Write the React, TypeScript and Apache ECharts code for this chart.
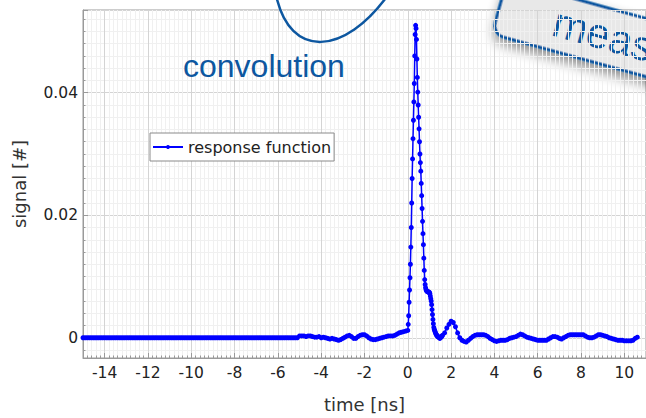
import React, { useEffect, useRef } from "react";
import * as echarts from "echarts";

// ---- data ----
// baseline before the pulse: -15.0 .. -5.1 ns, every 0.1 ns
const flatStart = -15;
const flatStep = 0.1;
const flatSignal = [
  0, 0, 0, 0, 0, 0, 0, 0, 0, 0,
  0, 0, 0, 0, 0, 0, 0, 0, 0, 0,
  0, 0, 0, 0, 0, 0, 0, 0, 0, 0,
  0, 0, 0, 0, 0, 0, 0, 0, 0, 0,
  0, 0, 0, 0, 0, 0, 0, 0, 0, 0,
  0, 0, 0, 0, 0, 0, 0, 0, 0, 0,
  0, 0, 0, 0, 0, 0, 0, 0, 0, 0,
  0, 0, 0, 0, 0, 0, 0, 0, 0, 0,
  0, 0, 0, 0, 0, 0, 0, 0, 0, 0,
  0, 0, 0, 0, 0, 0, 0, 0, 0, 0,
];

// -5.0 .. -0.1 ns, every 0.1 ns
const preStart = -5;
const preStep = 0.1;
const preSignal = [
  0.0003, 0.0003, 0.0003, 0.0002, 0.0003, 0.0003, 0.0002, 0.0001, 0.0001, 0.0002,
  0.0, 0.0001, 0.0, -0.0001, -0.0002, -0.0001, -0.0002, -0.0003, -0.0004, -0.0003,
  -0.0001, 0.0001, 0.0003, 0.0004, 0.0002, -0.0001, -0.0001, 0.0002, 0.0004, 0.0005,
  0.0005, 0.0003, 0.0, -0.0002, -0.0003, -0.0003, -0.0002, -0.0001, 0.0, 0.0001,
  0.0002, 0.0003, 0.0003, 0.0003, 0.0004, 0.0006, 0.0008, 0.0009, 0.001, 0.0011,
];

// 0.00 .. 1.60 ns, every 0.02 ns
const peakStart = 0;
const peakStep = 0.02;
const peakSignal = [
  0.0012, 0.0022, 0.0036, 0.0058, 0.0078, 0.0098, 0.012, 0.0148, 0.018, 0.022,
  0.026, 0.0292, 0.0325, 0.0355, 0.0385, 0.0415, 0.046, 0.0495, 0.051, 0.0505,
  0.0487, 0.0455, 0.0425, 0.0401, 0.038, 0.036, 0.0341, 0.032, 0.03, 0.0286,
  0.0272, 0.0252, 0.0232, 0.0211, 0.019, 0.017, 0.0152, 0.013, 0.011, 0.0095,
  0.0087, 0.0082, 0.0079, 0.0077, 0.0076, 0.0076, 0.0075, 0.0075, 0.0075, 0.0074,
  0.0074, 0.0072, 0.0068, 0.0064, 0.006, 0.0054, 0.0046, 0.0038, 0.003, 0.0023,
  0.0017, 0.0014, 0.0012, 0.001, 0.0008, 0.0006, 0.0005, 0.0004, 0.0003, 0.0002,
  0.0002, 0.0001, 0.0001, 0.0, -0.0001, 0.0, 0.0001, 0.0001, 0.0002, 0.0003,
  0.0004,
];

// 1.7 .. 10.6 ns, every 0.1 ns
const tailStart = 1.7;
const tailStep = 0.1;
const tailSignal = [
  0.0008, 0.0016, 0.0022, 0.0027, 0.0025, 0.0018, 0.0008, 0.0, -0.0004, -0.0006,
  -0.0007, -0.0004, -0.0001, 0.0002, 0.0004, 0.0005, 0.0005, 0.0005, 0.0005, 0.0004,
  0.0002, -0.0001, -0.0003, -0.0005, -0.0006, -0.0005, -0.0004, -0.0004, -0.0004, -0.0003,
  -0.0001, 0.0, 0.0001, 0.0002, 0.0004, 0.0006, 0.0005, 0.0003, 0.0001, 0.0,
  -0.0001, -0.0002, -0.0003, -0.0004, -0.0004, -0.0004, -0.0004, -0.0004, -0.0002, 0.0,
  0.0002, 0.0002, 0.0001, -0.0001, -0.0002, 0.0, 0.0002, 0.0004, 0.0005, 0.0005,
  0.0005, 0.0005, 0.0005, 0.0005, 0.0005, 0.0003, 0.0001, 0.0, 0.0, 0.0001,
  0.0003, 0.0005, 0.0005, 0.0004, 0.0003, 0.0002, 0.0, -0.0001, -0.0002, -0.0003,
  -0.0004, -0.0004, -0.0004, -0.0005, -0.0005, -0.0005, -0.0005, -0.0004, -0.0001, 0.0001,
];

const seriesName = "response function";
const xAxisTitle = "time [ns]";
const yAxisTitle = "signal [#]";
const xRange = [-15, 11];
const yRange = [-0.0033, 0.0535];
const xMajorStep = 2;
const yMajorStep = 0.02;

function buildPoints(): [number, number][] {
  const segs = [
    { start: flatStart, step: flatStep, values: flatSignal },
    { start: preStart, step: preStep, values: preSignal },
    { start: peakStart, step: peakStep, values: peakSignal },
    { start: tailStart, step: tailStep, values: tailSignal },
  ];
  const pts: [number, number][] = [];
  segs.forEach((s) => {
    s.values.forEach((v, i) => {
      pts.push([Math.round((s.start + i * s.step) * 1000) / 1000, v]);
    });
  });
  return pts;
}

const BLUE_DECO = "#0d57a0";
const AXIS_COLOR = "#9a9a9a";
const FONT = "DejaVu Sans";

export default function App() {
  const ref = useRef<HTMLDivElement>(null);
  useEffect(() => {
    if (!ref.current) return;
    const chart = echarts.init(ref.current, undefined, { renderer: "svg" });
    const axisCommon = {
      type: "value" as const,
      axisLine: { show: true, onZero: false, lineStyle: { color: AXIS_COLOR } },
      axisTick: { show: true, inside: true, length: 5, lineStyle: { color: AXIS_COLOR } },
      minorTick: { show: true, splitNumber: 10, length: 2.5, lineStyle: { color: AXIS_COLOR } },
      splitLine: { show: true, lineStyle: { color: "#d4d4d4", width: 1 } },
      minorSplitLine: { show: true, lineStyle: { color: "#f0f0f0", width: 1 } },
      nameLocation: "middle" as const,
      nameTextStyle: { fontSize: 18, color: "#333", fontFamily: FONT },
    };
    chart.setOption({
      animation: false,
      backgroundColor: "#fff",
      grid: {
        left: 83,
        top: 10,
        right: -1,
        bottom: 56.5,
        show: true,
        borderColor: AXIS_COLOR,
        borderWidth: 1,
        backgroundColor: "#fff",
      },
      legend: {
        show: true,
        data: [seriesName],
        left: 150,
        top: 133,
        padding: [6, 3, 6, 2],
        backgroundColor: "#fff",
        borderColor: "#8a8a8a",
        borderWidth: 1,
        itemWidth: 30,
        itemHeight: 5,
        textStyle: { fontSize: 16, color: "#222", fontFamily: FONT },
      },
      xAxis: {
        ...axisCommon,
        min: xRange[0],
        max: xRange[1],
        splitNumber: 13,
        minInterval: xMajorStep,
        maxInterval: xMajorStep,
        name: xAxisTitle,
        nameGap: 37,
        axisLabel: {
          showMinLabel: false,
          showMaxLabel: false,
          margin: 7,
          fontSize: 15.5,
          color: "#222",
          fontFamily: FONT,
        },
      },
      yAxis: {
        ...axisCommon,
        min: yRange[0],
        max: yRange[1],
        splitNumber: 3,
        minInterval: yMajorStep,
        maxInterval: yMajorStep,
        name: yAxisTitle,
        nameGap: 55,
        axisLabel: {
          showMinLabel: false,
          showMaxLabel: false,
          margin: 5,
          fontSize: 15.5,
          color: "#222",
          fontFamily: FONT,
        },
      },
      series: [
        {
          name: seriesName,
          type: "line",
          data: buildPoints(),
          symbol: "circle",
          symbolSize: 5,
          showSymbol: true,
          clip: true,
          lineStyle: { color: "#0000ff", width: 1.5 },
          itemStyle: { color: "#0000ff" },
        },
      ],
      graphic: [
        {
          type: "bezierCurve",
          z: 100,
          shape: { x1: 276, y1: -5, cpx1: 290, cpy1: 60, cpx2: 345, cpy2: 55, x2: 388, y2: -5 },
          style: { stroke: BLUE_DECO, lineWidth: 2.5, fill: "none" },
        },
        {
          type: "text",
          z: 100,
          x: 183,
          y: 66,
          style: {
            text: "convolution",
            fill: BLUE_DECO,
            font: '32px "Liberation Sans", Arial, sans-serif',
            verticalAlign: "middle",
          },
        },
        {
          type: "group",
          z: 100,
          x: 507,
          y: -20,
          rotation: (-15.5 * Math.PI) / 180,
          children: [
            {
              type: "rect",
              shape: { x: 0, y: 0, width: 330, height: 56, r: 12 },
              style: {
                fill: "#e8e8e8",
                stroke: BLUE_DECO,
                lineWidth: 3,
                shadowBlur: 12,
                shadowColor: "rgba(0,0,0,0.45)",
                shadowOffsetX: 2,
                shadowOffsetY: 6,
              },
            },
            {
              type: "text",
              x: 56,
              y: 27,
              style: {
                text: "measurement",
                fill: BLUE_DECO,
                font: '42px "Liberation Sans", Arial, sans-serif',
                verticalAlign: "middle",
              },
            },
          ],
        },
      ],
    });
    return () => chart.dispose();
  }, []);
  return (
    <div
      ref={ref}
      style={{ position: "fixed", left: 0, top: 0, width: 646, height: 418 }}
    />
  );
}
